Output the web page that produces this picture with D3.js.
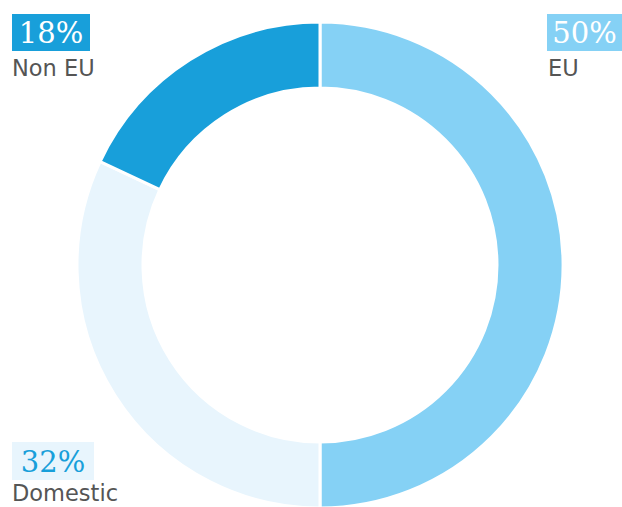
<!DOCTYPE html>
<html><head><meta charset="utf-8">
<script src="https://cdn.jsdelivr.net/npm/d3@7"></script>
<style>body{margin:0;background:#fff}</style>
</head><body>
<svg id="c" width="622" height="507"></svg>
<script>
const categories = ["EU", "Domestic", "Non EU"];
const values = [50, 32, 18];
const colors = ["#85D1F5", "#E8F5FD", "#189FDA"];
const labelColors = ["#ffffff", "#189FDA", "#ffffff"];

const svg = d3.select("#c");
const cx = 320, cy = 265, rOuter = 243, rInner = 177;
const pie = d3.pie().sort(null).value(d => d)(values);
const arc = d3.arc().innerRadius(rInner).outerRadius(rOuter);
const g = svg.append("g").attr("transform", `translate(${cx},${cy})`);
g.selectAll("path").data(pie).join("path")
  .attr("d", arc).attr("fill", (d,i) => colors[i])
  .attr("stroke", "#fff").attr("stroke-width", 3);

const labelPos = [
  {x: 547, y: 14, w: 75, h: 37, tx: 548, ty: 76},
  {x: 12, y: 442, w: 82, h: 38, tx: 12, ty: 501},
  {x: 12, y: 14, w: 78, h: 37, tx: 12, ty: 76}
];
categories.forEach((c, i) => {
  const p = labelPos[i];
  svg.append("rect").attr("x", p.x).attr("y", p.y).attr("width", p.w).attr("height", p.h).attr("fill", colors[i]);
  svg.append("text").attr("x", p.x + p.w/2).attr("y", p.y + p.h - 8)
    .attr("text-anchor", "middle").attr("font-family", "'DejaVu Serif', Georgia, serif")
    .attr("font-size", 29).attr("fill", labelColors[i]).text(values[i] + "%");
  svg.append("text").attr("x", p.tx).attr("y", p.ty)
    .attr("font-family", "'DejaVu Sans', Arial, sans-serif").attr("font-size", 22.5)
    .attr("fill", "#555").text(c);
});
</script>
</body></html>
